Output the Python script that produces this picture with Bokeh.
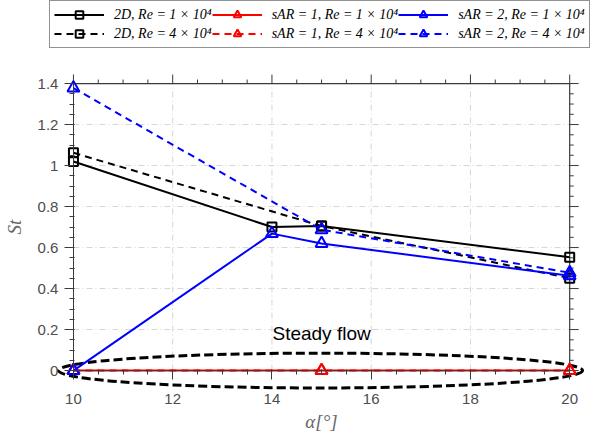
import numpy as np
from bokeh.plotting import figure
from bokeh.models import (LinearAxis, SingleIntervalTicker, Legend, LegendItem,
                          CustomJSTickFormatter, Range1d, Label)
from bokeh.embed import file_html
from bokeh.resources import INLINE

# ---- data ----
alpha_2d_re1 = [10, 14, 15, 20]
st_2d_re1 = [1.02, 0.70, 0.705, 0.553]
alpha_2d_re4 = [10, 15, 20]
st_2d_re4 = [1.062, 0.705, 0.45]
alpha_sar1 = [10, 15, 20]
st_sar1_re1 = [0.0, 0.0, 0.0]
st_sar1_re4 = [0.0, 0.0, 0.0]
alpha_sar2_re1 = [10, 14, 15, 20]
st_sar2_re1 = [0.0, 0.668, 0.62, 0.462]
alpha_sar2_re4 = [10, 15, 20]
st_sar2_re4 = [1.378, 0.687, 0.477]

series_labels = [
    "2D, Re = 1 × 10⁴", "sAR = 1, Re = 1 × 10⁴", "sAR = 2, Re = 1 × 10⁴",
    "2D, Re = 4 × 10⁴", "sAR = 1, Re = 4 × 10⁴", "sAR = 2, Re = 4 × 10⁴",
]

# grid-line positions (major ticks inside the box)
x_grid = [12, 14, 16, 18]
y_grid = [0.2, 0.4, 0.6, 0.8, 1.0, 1.2]
# tick positions for the top / right box edges
x_major = [10, 12, 14, 16, 18, 20]
y_major = [0, 0.2, 0.4, 0.6, 0.8, 1.0, 1.2, 1.4]
x_minor = [v for v in np.arange(10, 20.01, 0.5) if v not in x_major]
y_minor = [round(v, 2) for v in np.arange(0, 1.401, 0.05) if round(v, 2) not in y_major]

# steady-flow ellipse (centre, size in data units)
ellipse_x = [14.98]
ellipse_y = [0.0]
ellipse_w = [10.56]
ellipse_h = [0.17]

x_bounds = (10, 20)
y_bounds = (0, 1.4000001)
y_top = 1.4

AXC = "#3a3a3a"
LBC = "#4d4d4d"
GRC = "#d6d6d6"

p = figure(width=594, height=433, x_range=Range1d(8.53, 20.5), y_range=Range1d(-0.307, 1.805),
           x_axis_type=None, y_axis_type=None, toolbar_location=None,
           output_backend="svg", min_border=0)
p.outline_line_color = None

# dash-dot grid, limited to the axes box
p.segment(x0=x_grid, y0=[y_bounds[0]] * len(x_grid), x1=x_grid, y1=[y_top] * len(x_grid),
          line_color=GRC, line_width=1, line_dash="6 3 1 3")
p.segment(x0=[x_bounds[0]] * len(y_grid), y0=y_grid, x1=[x_bounds[1]] * len(y_grid), y1=y_grid,
          line_color=GRC, line_width=1, line_dash="6 3 1 3")

# box edges (top and right) with outward ticks
p.line(x=[x_bounds[0], x_bounds[1], x_bounds[1]], y=[y_top, y_top, y_bounds[0]],
       line_color=AXC, line_width=1.2)
p.ray(x=[x_bounds[1]] * len(y_major), y=y_major, length=9, length_units="screen",
      angle=0, line_color=AXC, line_width=1)
p.ray(x=[x_bounds[1]] * len(y_minor), y=y_minor, length=4, length_units="screen",
      angle=0, line_color=AXC, line_width=1)
p.ray(x=x_major, y=[y_top] * len(x_major), length=9, length_units="screen",
      angle=np.pi / 2, line_color=AXC, line_width=1)
p.ray(x=x_minor, y=[y_top] * len(x_minor), length=4, length_units="screen",
      angle=np.pi / 2, line_color=AXC, line_width=1)

# ellipse highlighting the steady-flow cases
p.ellipse(x=ellipse_x, y=ellipse_y, width=ellipse_w, height=ellipse_h,
          fill_color=None, line_color="black", line_width=3, line_dash="9 4")

LW = 2
DASH = "7 5"

def series(xs, ys, color, dash, marker, size):
    r = p.line(xs, ys, line_color=color, line_width=LW, line_dash=dash)
    s = p.scatter(xs, ys, marker=marker, size=size, fill_color=None,
                  line_color=color, line_width=2)
    return [r, s]

r_2d_1 = series(alpha_2d_re1, st_2d_re1, "black", "solid", "square", 9)
r_2d_4 = series(alpha_2d_re4, st_2d_re4, "black", DASH, "square", 9)
r_s1_4 = series(alpha_sar1, st_sar1_re4, "red", DASH, "triangle", 12)
r_s1_1 = series(alpha_sar1, st_sar1_re1, "red", "solid", "triangle", 12)
r_s2_1 = series(alpha_sar2_re1, st_sar2_re1, "blue", "solid", "triangle", 12)
r_s2_4 = series(alpha_sar2_re4, st_sar2_re4, "blue", DASH, "triangle", 12)

fmt_x = CustomJSTickFormatter(code="return String(Number(tick.toFixed(2)));")
fmt_y = CustomJSTickFormatter(code="return String(Number(tick.toFixed(2)));")

def style_axis(ax):
    ax.axis_line_color = AXC
    ax.axis_line_width = 1
    ax.major_tick_line_color = AXC
    ax.minor_tick_line_color = AXC
    ax.major_tick_out = 9
    ax.major_tick_in = 0
    ax.minor_tick_out = 4
    ax.minor_tick_in = 1
    ax.major_label_text_font = "Liberation Sans"
    ax.major_label_text_font_size = "15px"
    ax.major_label_text_color = LBC
    ax.axis_label_text_color = "#666666"
    ax.axis_label_text_font = "Liberation Serif"
    ax.axis_label_text_font_style = "italic"
    ax.axis_label_text_font_size = "19px"

bottom = LinearAxis(ticker=SingleIntervalTicker(interval=2, num_minor_ticks=4), formatter=fmt_x,
                    fixed_location=0, bounds=x_bounds, axis_label="α[°]")
style_axis(bottom)
bottom.major_label_standoff = 14
bottom.axis_label_standoff = 4
p.add_layout(bottom, "below")

left = LinearAxis(ticker=SingleIntervalTicker(interval=0.2, num_minor_ticks=4), formatter=fmt_y,
                  fixed_location=10, bounds=y_bounds, axis_label="St")
style_axis(left)
left.major_label_standoff = 6
left.axis_label_standoff = 10
p.add_layout(left, "left")

p.add_layout(Label(x=15.0, y=0.18, text="Steady flow", text_font="Liberation Sans",
                   text_font_size="19px", text_align="center", text_baseline="middle",
                   text_color="black"))

items = [
    LegendItem(label=series_labels[0], renderers=r_2d_1),
    LegendItem(label=series_labels[1], renderers=r_s1_1),
    LegendItem(label=series_labels[2], renderers=r_s2_1),
    LegendItem(label=series_labels[3], renderers=r_2d_4),
    LegendItem(label=series_labels[4], renderers=r_s1_4),
    LegendItem(label=series_labels[5], renderers=r_s2_4),
]
legend = Legend(items=items, ncols=3, orientation="horizontal", location=(49, 385),
                glyph_width=50, glyph_height=19, label_height=19, label_standoff=10,
                spacing=0, padding=4, margin=0,
                label_text_font="Liberation Serif", label_text_font_style="italic",
                label_text_font_size="14px", label_text_color="black",
                border_line_color="#262626", border_line_width=1,
                background_fill_color="white", background_fill_alpha=1)
p.add_layout(legend)

open("out.html", "w").write(file_html(p, INLINE))
